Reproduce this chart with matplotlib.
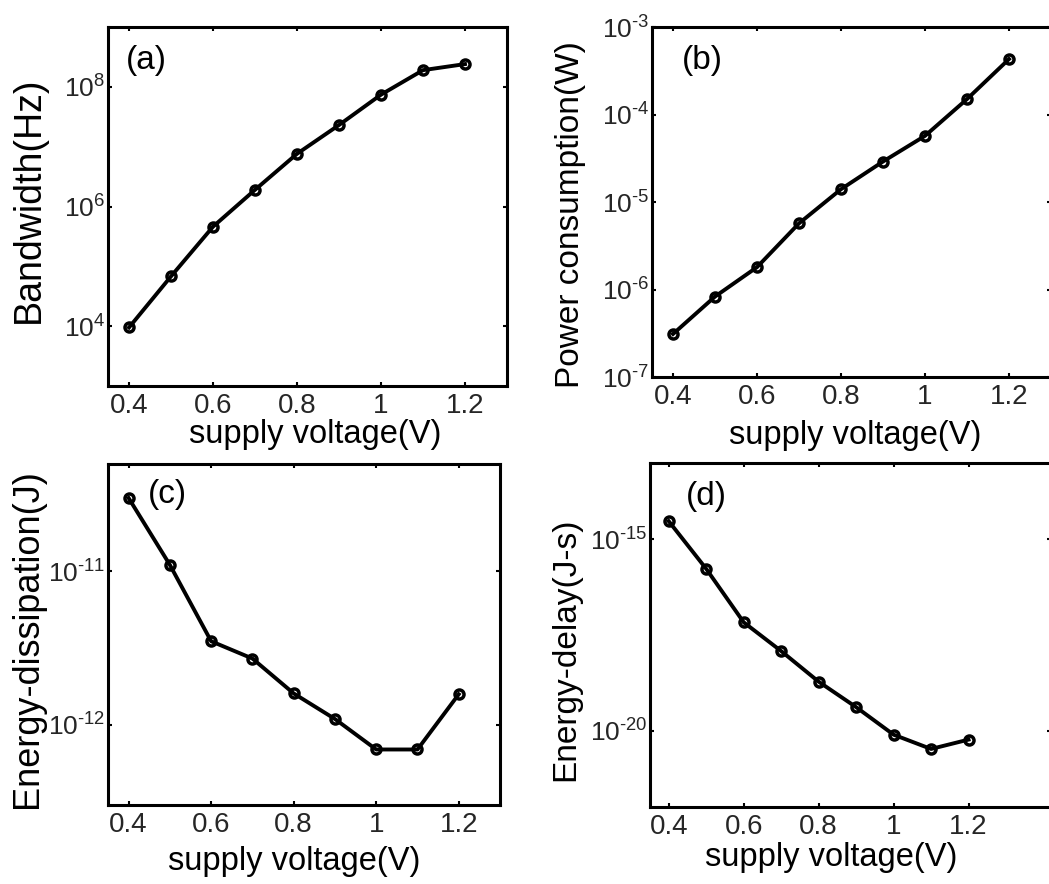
import numpy as np
import matplotlib
matplotlib.use("Agg")
import matplotlib.pyplot as plt
from matplotlib.ticker import FixedLocator, FuncFormatter, NullLocator

plt.rcParams['font.family'] = ['Liberation Sans', 'DejaVu Sans']
plt.rcParams['mathtext.fontset'] = 'custom'
plt.rcParams['mathtext.rm'] = 'Liberation Sans'
plt.rcParams['mathtext.it'] = 'Liberation Sans'
plt.rcParams['axes.unicode_minus'] = False

# ---- data ----
voltage = [0.4, 0.5, 0.6, 0.7, 0.8, 0.9, 1.0, 1.1, 1.2]
bandwidth = [9.5e3, 6.8e4, 4.6e5, 1.9e6, 7.6e6, 2.3e7, 7.4e7, 1.9e8, 2.4e8]
power = [3.1e-7, 8.3e-7, 1.8e-6, 5.7e-6, 1.4e-5, 2.9e-5, 5.7e-5, 1.5e-4, 4.3e-4]
energy = [3.0e-11, 1.1e-11, 3.5e-12, 2.7e-12, 1.6e-12, 1.09e-12, 6.9e-13, 6.9e-13, 1.58e-12]
energy_delay = [3.0e-15, 1.7e-16, 6.8e-18, 1.2e-18, 1.9e-19, 4.1e-20, 7.8e-21, 3.3e-21, 5.8e-21]

x_ticks = [0.4, 0.6, 0.8, 1.0, 1.2]
x_ticklabels = ['0.4', '0.6', '0.8', '1', '1.2']
xlabel = 'supply voltage(V)'

W, H = 1049, 884
fig = plt.figure(figsize=(W / 100, H / 100), dpi=100)


def px_axes(left, right, top, bottom):
    return fig.add_axes([left / W, 1 - bottom / H, (right - left) / W, (bottom - top) / H])


panels = [
    dict(box=(108, 507, 27, 386), y=bandwidth, ylim=(1e3, 1e9), xlim=(0.35, 1.3),
         yticks=[1e4, 1e6, 1e8], ylabel='Bandwidth(Hz)', ysize=27,
         ylc=(-0.198, 0.518), xlc=(0.519, -0.093), tag='(a)', tagpos=(146, 60)),
    dict(box=(652, 1051, 27, 377), y=power, ylim=(1e-7, 1e-3), xlim=(0.35, 1.3),
         yticks=[1e-7, 1e-6, 1e-5, 1e-4, 1e-3], ylabel='Power consumption(W)', ysize=24,
         ylc=(-0.2055, 0.463), xlc=(0.509, -0.122), tag='(b)', tagpos=(702, 60)),
    dict(box=(108, 500, 464, 805), y=energy, ylim=(3e-13, 5e-11), xlim=(0.35, 1.3),
         yticks=[1e-12, 1e-11], ylabel='Energy-dissipation(J)', ysize=26,
         ylc=(-0.205, 0.487), xlc=(0.474, -0.12), tag='(c)', tagpos=(167, 495)),
    dict(box=(650, 1051, 463, 807), y=energy_delay, ylim=(1e-22, 1e-13), xlim=(0.35, 1.42),
         yticks=[1e-20, 1e-15], ylabel='Energy-delay(J-s)', ysize=24,
         ylc=(-0.21, 0.458), xlc=(0.451, -0.102), tag='(d)', tagpos=(706, 497)),
]


def log_label(v, pos):
    e = int(round(np.log10(v)))
    s = str(abs(e))
    if e < 0:
        s = '\u2010' + s
    return r'$\mathregular{10^{%s}}$' % s


fmt = FuncFormatter(log_label)

for p in panels:
    ax = px_axes(*p['box'])
    ax.plot(voltage, p['y'], '-o', color='black', lw=2.8, ms=6.5, mew=2.5,
            mfc='none', mec='black', clip_on=False)
    ax.set_yscale('log')
    ax.set_xlim(*p['xlim'])
    ax.set_ylim(*p['ylim'])
    ax.xaxis.set_major_locator(FixedLocator(x_ticks))
    ax.set_xticklabels(x_ticklabels)
    ax.yaxis.set_major_locator(FixedLocator(p['yticks']))
    ax.yaxis.set_minor_locator(NullLocator())
    ax.yaxis.set_major_formatter(fmt)
    ax.tick_params(axis='both', which='major', direction='in', length=3, width=1.5,
                   top=True, right=True, labelsize=20, labelcolor='#262626')
    ax.tick_params(axis='y', labelsize=19)
    ax.tick_params(axis='x', pad=5)
    ax.tick_params(axis='y', pad=2)
    for s in ax.spines.values():
        s.set_linewidth(2.2)
    ax.set_ylabel(p['ylabel'], fontsize=p['ysize'], va='center')
    ax.yaxis.set_label_coords(*p['ylc'])
    ax.set_xlabel(xlabel, fontsize=23.5, va='top')
    ax.xaxis.set_label_coords(*p['xlc'])
    tx, ty = p['tagpos']
    fig.text(tx / W, 1 - ty / H, p['tag'], fontsize=24, ha='center', va='center')

fig.savefig('out.png', dpi=100)
